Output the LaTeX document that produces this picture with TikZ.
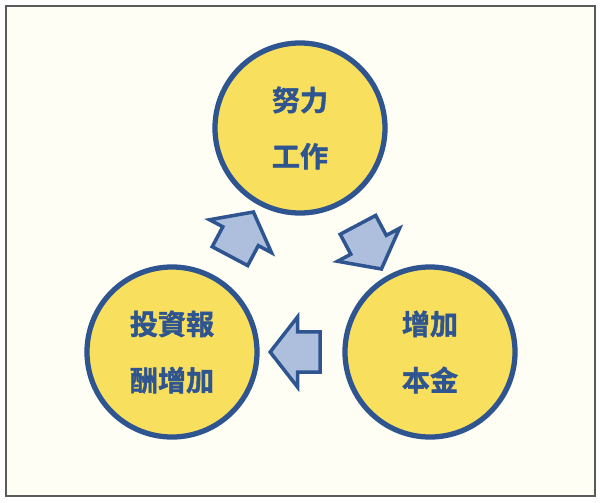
\documentclass[tikz,border=0pt]{standalone}
\usepackage{fontspec}
\newfontfamily\cjk{Noto Sans CJK TC}[BoldFont={Noto Sans CJK TC Bold}, BoldFeatures={FakeBold=1.5}]
\usetikzlibrary{shapes.arrows}
\definecolor{framegray}{HTML}{5A5A5A}
\definecolor{paperbg}{HTML}{FFFEF4}
\definecolor{ballfill}{HTML}{F9DF5E}
\definecolor{ballblue}{HTML}{2F5590}
\definecolor{arrowfill}{HTML}{AEBFDE}
\begin{document}
\begin{tikzpicture}[x=0.03cm, y=-0.03cm,
    ball/.style={circle, draw=ballblue, fill=ballfill, line width=4.5pt, minimum size=5.1cm, inner sep=0pt,
      align=center, font=\cjk\bfseries\fontsize{24}{48}\selectfont, text=ballblue},
    blockarrow/.style={single arrow, draw=ballblue, fill=arrowfill, line width=3pt, minimum height=1.5cm,
      inner xsep=0pt, inner ysep=0.55cm, single arrow head extend=0.45cm, single arrow tip angle=104}
]
\useasboundingbox (0,0) rectangle (600,502);
\draw[framegray, fill=paperbg, line width=2.5pt] (6,6) rectangle (595,496);

% circles
\node[ball] (work) at (300,128) {努力\\工作};
\node[ball] (capital) at (430,352) {增加\\本金};
\node[ball] (reward) at (172,352) {投資報\\酬增加};

% arrows
\node[blockarrow, rotate=-62] (a1) at (366,240) {};
\node[blockarrow, rotate=180] (a2) at (303,352) {};
\node[blockarrow, rotate=62] (a3) at (238,241) {};
\end{tikzpicture}
\end{document}
